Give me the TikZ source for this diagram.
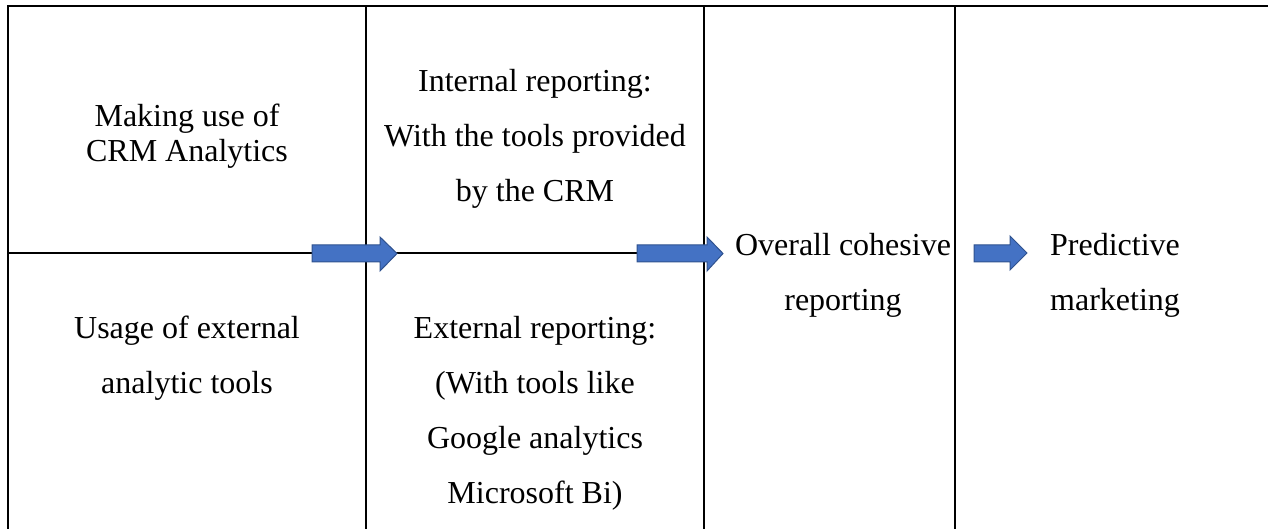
\documentclass[tikz,border=0pt]{standalone}
\usepackage{fontspec}
\setmainfont{Liberation Serif}
\definecolor{arrfill}{HTML}{4472C4}
\definecolor{arrdraw}{HTML}{2F528F}
\begin{document}
\begin{tikzpicture}[x=1pt,y=-1pt,
  grid/.style={line width=2.2pt,black},
  txt/.style={anchor=base,inner sep=0pt,font=\fontsize{32}{38}\selectfont},
  blockarrow/.style={fill=arrfill,draw=arrdraw,line width=1pt,line join=miter}]
\useasboundingbox (0,0) rectangle (1268,529);
% table lines
\draw[grid] (8,529) -- (8,6) -- (1268,6);
\draw[grid] (366,6) -- (366,529);
\draw[grid] (704,6) -- (704,529);
\draw[grid] (955,6) -- (955,529);
\draw[grid] (8,253) -- (704,253);
% texts
\node[txt] (m1) at (187,127) {Making use of};
\node[txt] (m2) at (187,162) {CRM Analytics};
\node[txt] (u1) at (187,338) {Usage of external};
\node[txt] (u2) at (187,393) {analytic tools};
\node[txt] (i1) at (535,92) {Internal reporting:};
\node[txt] (i2) at (535,147) {With the tools provided};
\node[txt] (i3) at (535,202) {by the CRM};
\node[txt] (e1) at (535,338) {External reporting:};
\node[txt] (e2) at (535,393) {(With tools like};
\node[txt] (e3) at (535,448) {Google analytics};
\node[txt] (e4) at (535,503) {Microsoft Bi)};
\node[txt] (o1) at (843,256) {Overall cohesive};
\node[txt] (o2) at (843,310) {reporting};
\node[txt] (p1) at (1115,256) {Predictive};
\node[txt] (p2) at (1115,310) {marketing};
% block arrows
\draw[blockarrow] (312,245) -- (380,245) -- (380,237) -- (397,253.5) -- (380,271) -- (380,262) -- (312,262) -- cycle;
\draw[blockarrow] (637,245) -- (707,245) -- (707,237) -- (723,253.5) -- (707,271) -- (707,262) -- (637,262) -- cycle;
\draw[blockarrow] (974,245) -- (1010,245) -- (1010,236) -- (1027,253) -- (1010,270) -- (1010,262) -- (974,262) -- cycle;
\end{tikzpicture}
\end{document}
